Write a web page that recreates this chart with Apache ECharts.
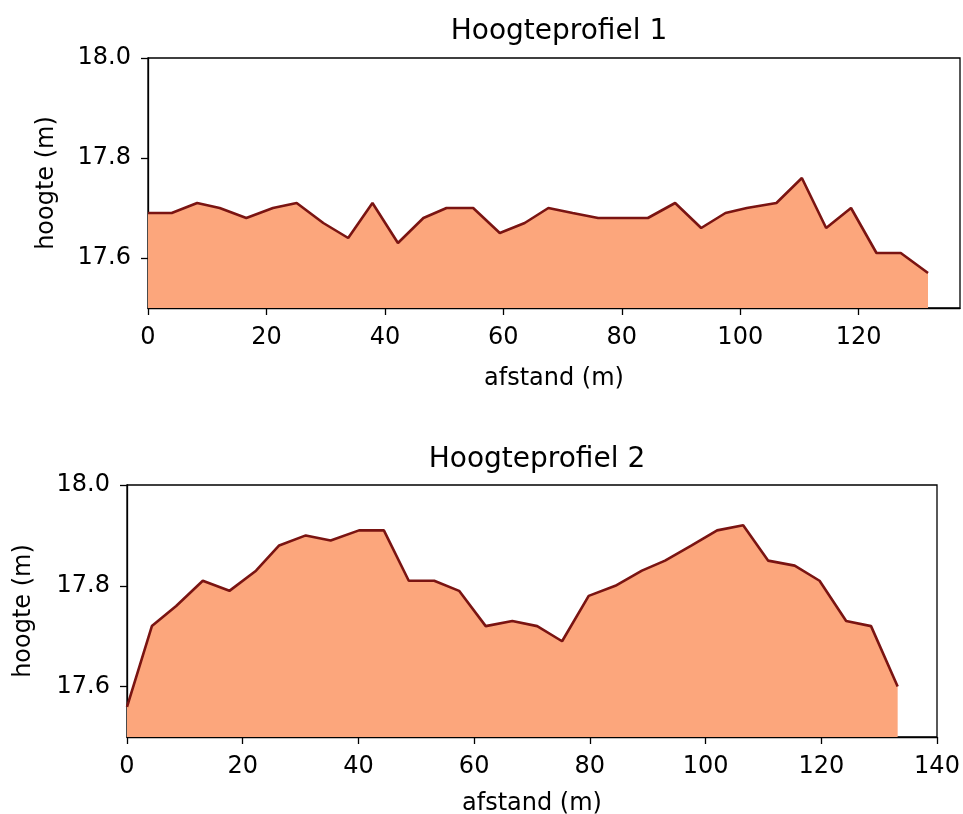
<!DOCTYPE html>
<html>
<head>
<meta charset="utf-8">
<script src="https://cdn.jsdelivr.net/npm/echarts@6/dist/echarts.min.js"></script>
<style>
  html, body { margin: 0; padding: 0; background: #fff; }
  #chart { width: 963px; height: 814px; }
</style>
</head>
<body>
<div id="chart"></div>
<script>
'use strict';

// profiel 1
var afstand1 = [0, 4.0, 8.3, 12.1, 16.6, 21.1, 25.1, 29.6, 33.8, 37.9, 42.2, 46.5, 50.4, 54.9, 59.4, 63.6,
    67.6, 71.7, 76.0, 80.2, 84.4, 89.0, 93.4, 97.5, 101.1, 106.1, 110.4, 114.5, 118.7, 123.0, 127.1, 131.7];
var hoogte1 = [17.69, 17.69, 17.71, 17.70, 17.68, 17.70, 17.71, 17.67, 17.64, 17.71, 17.63, 17.68, 17.70, 17.70, 17.65, 17.67,
    17.70, 17.69, 17.68, 17.68, 17.68, 17.71, 17.66, 17.69, 17.70, 17.71, 17.76, 17.66, 17.70, 17.61, 17.61, 17.57];

// profiel 2
var afstand2 = [0, 4.3, 8.5, 13.1, 17.7, 22.3, 26.3, 30.9, 35.2, 40.1, 44.4, 48.7, 53.1, 57.4, 62.0, 66.6,
    70.9, 75.2, 79.8, 84.4, 89.0, 93.0, 97.6, 102.0, 106.5, 110.8, 115.4, 119.7, 124.3, 128.6, 133.2];
var hoogte2 = [17.56, 17.72, 17.76, 17.81, 17.79, 17.83, 17.88, 17.90, 17.89, 17.91, 17.91, 17.81, 17.81, 17.79, 17.72, 17.73,
    17.72, 17.69, 17.78, 17.80, 17.83, 17.85, 17.88, 17.91, 17.92, 17.85, 17.84, 17.81, 17.73, 17.72, 17.60];

var yTicks = [17.6, 17.8, 18.0];
var titels = ['Hoogteprofiel 1', 'Hoogteprofiel 2'];

var font = 'DejaVu Sans';
var lineColor = '#7a1412';
var fillColor = '#fca67c';

function pairs(xs, ys) {
    return xs.map(function (x, i) { return [x, ys[i]]; });
}

function xAxisFor(idx, max, gap) {
    return {
        type: 'value',
        gridIndex: idx,
        min: 0,
        max: max,
        interval: 20,
        name: 'afstand (m)',
        nameLocation: 'middle',
        nameGap: gap,
        nameTextStyle: { fontFamily: font, fontSize: 24, color: '#000' },
        axisLine: { show: true, lineStyle: { color: '#000', width: 1.3 } },
        axisTick: { show: true, length: 7, lineStyle: { color: '#000', width: 1.3 } },
        axisLabel: { fontFamily: font, fontSize: 24, color: '#000', margin: 18, showMaxLabel: max % 20 === 0 },
        splitLine: { show: false }
    };
}

function yAxisFor(idx, gap) {
    return {
        type: 'value',
        gridIndex: idx,
        min: 17.5,
        max: 18.0,
        name: 'hoogte (m)',
        nameLocation: 'middle',
        nameGap: gap,
        nameTextStyle: { fontFamily: font, fontSize: 24, color: '#000' },
        axisLine: { show: true, lineStyle: { color: '#000', width: 1.3 } },
        axisTick: { show: true, length: 7, customValues: yTicks, lineStyle: { color: '#000', width: 1.3 } },
        axisLabel: {
            fontFamily: font, fontSize: 24, color: '#000', margin: 17,
            customValues: yTicks,
            formatter: function (v) { return v.toFixed(1); }
        },
        splitLine: { show: false }
    };
}

function seriesFor(idx, data) {
    return {
        type: 'line',
        xAxisIndex: idx,
        yAxisIndex: idx,
        data: data,
        showSymbol: false,
        symbol: 'none',
        animation: false,
        lineStyle: { color: lineColor, width: 2.6 },
        areaStyle: { color: fillColor, opacity: 1, origin: 'start' }
    };
}

var chart = echarts.init(document.getElementById('chart'), null, { renderer: 'canvas' });

chart.setOption({
    animation: false,
    backgroundColor: '#fff',
    title: [
        {
            text: titels[0], left: 554, top: 13, textAlign: 'center',
            textStyle: { fontFamily: font, fontSize: 28, fontWeight: 'normal', color: '#000' }
        },
        {
            text: titels[1], left: 532, top: 441, textAlign: 'center',
            textStyle: { fontFamily: font, fontSize: 28, fontWeight: 'normal', color: '#000' }
        }
    ],
    grid: [
        { left: 148, top: 58, width: 812, height: 250, outerBoundsMode: 'none',
          show: true, borderColor: '#000', borderWidth: 1.3 },
        { left: 127, top: 485, width: 810, height: 252, outerBoundsMode: 'none',
          show: true, borderColor: '#000', borderWidth: 1.3 }
    ],
    xAxis: [xAxisFor(0, 137.1, 59), xAxisFor(1, 140, 55)],
    yAxis: [yAxisFor(0, 89), yAxisFor(1, 91)],
    series: [
        seriesFor(0, pairs(afstand1, hoogte1)),
        seriesFor(1, pairs(afstand2, hoogte2))
    ]
});
</script>
</body>
</html>
